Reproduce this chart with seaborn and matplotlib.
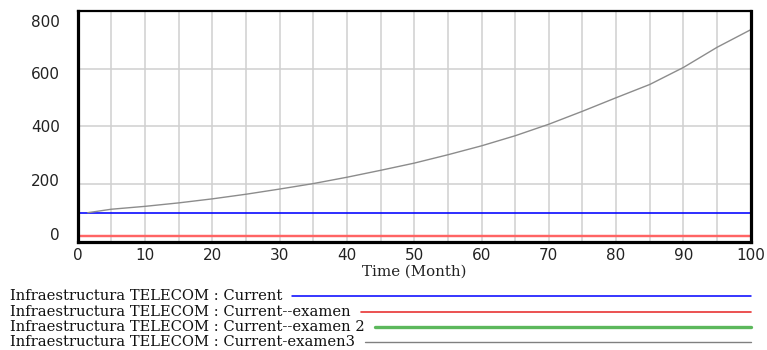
#!/usr/bin/env python3
# coding=utf-8

# Vensim style run comparison of "Infraestructura TELECOM" (Current vs. examen runs).

from matplotlib import pyplot as plt
from matplotlib.lines import Line2D
from matplotlib.transforms import ScaledTranslation
import matplotlib.ticker as mticker
import pandas as pd
import seaborn as sns


# time axis of the flat runs (Month)
time_flat = [0, 10, 20, 30, 40, 50, 60, 70, 80, 90, 100]
current = [100, 100, 100, 100, 100, 100, 100, 100, 100, 100, 100]
current_examen = [19, 19, 19, 19, 19, 19, 19, 19, 19, 19, 19]
current_examen_2 = [19, 19, 19, 19, 19, 19, 19, 19, 19, 19, 19]

# growing run
time_examen3 = [1.5, 5, 10, 15, 20, 25, 30, 35, 40, 45, 50,
                55, 60, 65, 70, 75, 80, 85, 90, 95, 100]
current_examen3 = [100, 112, 122, 134, 148, 164, 182, 201, 223, 247, 272,
                   301, 332, 367, 407, 452, 499, 545, 604, 674, 735]

x_ticks = [0, 10, 20, 30, 40, 50, 60, 70, 80, 90, 100]
y_ticks = [0, 200, 400, 600, 800]

series_names = [
    "Infraestructura TELECOM : Current",
    "Infraestructura TELECOM : Current--examen",
    "Infraestructura TELECOM : Current--examen 2",
    "Infraestructura TELECOM : Current-examen3",
]


def get_dataframe() -> pd.DataFrame:
    """
    Builds one long data frame with all runs.
    """
    frames = [
        pd.DataFrame({"time": time_flat, "value": current, "run": series_names[0]}),
        pd.DataFrame({"time": time_flat, "value": current_examen, "run": series_names[1]}),
        pd.DataFrame({"time": time_flat, "value": current_examen_2, "run": series_names[2]}),
        pd.DataFrame({"time": time_examen3, "value": current_examen3, "run": series_names[3]}),
    ]
    return pd.concat(frames, ignore_index=True)


def plot_graph(df: pd.DataFrame, fig_location: str = "out.png"):
    """
    Plot the run comparison graph.
    """
    sns.set_theme(style="white")
    plt.rcParams["font.family"] = ["DejaVu Sans"]

    W, H = 767, 350
    fig = plt.figure(figsize=(W / 100, H / 100), dpi=100)
    left, right, top, bottom = 77.7, 750.7, 11, 241.5
    ax = fig.add_axes([left / W, 1 - bottom / H, (right - left) / W, (bottom - top) / H])

    plot_colors = {
        series_names[0]: "#0000ff",
        series_names[1]: "#ff6464",
        series_names[2]: "#ff6464",
        series_names[3]: "#8c8c8c",
    }
    plot_widths = {
        series_names[0]: 1.15,
        series_names[1]: 1.6,
        series_names[2]: 1.6,
        series_names[3]: 1.0,
    }
    # green run lies underneath the red one
    for name in [series_names[2], series_names[1], series_names[0], series_names[3]]:
        sns.lineplot(data=df[df["run"] == name], x="time", y="value", ax=ax,
                     color=plot_colors[name], linewidth=plot_widths[name], legend=False)

    ax.set_xlim(0, 100)
    ax.set_ylim(0, 800)
    ax.xaxis.set_major_locator(mticker.FixedLocator(x_ticks))
    ax.xaxis.set_minor_locator(mticker.MultipleLocator(5))
    ax.yaxis.set_major_locator(mticker.FixedLocator(y_ticks))
    ax.grid(which="both", axis="x", color="#d0d0d0", linewidth=1.1)
    ax.grid(which="major", axis="y", color="#d0d0d0", linewidth=1.1)
    ax.set_axisbelow(True)
    ax.tick_params(axis="both", which="both", length=0, labelsize=11, colors="#222222")
    ax.tick_params(axis="y", pad=13)
    ax.tick_params(axis="x", pad=5)

    for side, lw in [("left", 2.3), ("bottom", 2.3), ("right", 2.3), ("top", 1.6)]:
        ax.spines[side].set_visible(True)
        ax.spines[side].set_color("black")
        ax.spines[side].set_linewidth(lw)

    ax.set_ylabel(None)
    ax.set_xlabel("Time (Month)", family=["DejaVu Serif"], fontsize=10.8, labelpad=1, color="#222222")

    # Vensim spreads the y labels a bit inside the axis range
    label_shift = [8, 3.7, 0, -4.7, -10]
    for lab, dy in zip(ax.get_yticklabels(), label_shift):
        lab.set_transform(lab.get_transform() + ScaledTranslation(0, dy / 100, fig.dpi_scale_trans))

    # legend rows under the chart
    legend_colors = ["#0000ff", "#e83434", "#5cb85c", "#808080"]
    legend_widths = [1.1, 1.2, 2.4, 1.0]
    row_y = [296, 312, 327, 342]
    fig.canvas.draw()
    renderer = fig.canvas.get_renderer()
    for name, col, lw, y in zip(series_names, legend_colors, legend_widths, row_y):
        t = fig.text(10 / W, 1 - y / H, name, family=["DejaVu Serif"], fontsize=10.6,
                     ha="left", va="center", color="#111111")
        ext = t.get_window_extent(renderer)
        x0 = (ext.x1 + 10) / W
        fig.add_artist(Line2D([x0, right / W], [1 - y / H, 1 - y / H], color=col, linewidth=lw,
                              transform=fig.transFigure))

    fig.savefig(fig_location, dpi=100)


if __name__ == "__main__":
    df = get_dataframe()
    plot_graph(df, fig_location="out.png")
